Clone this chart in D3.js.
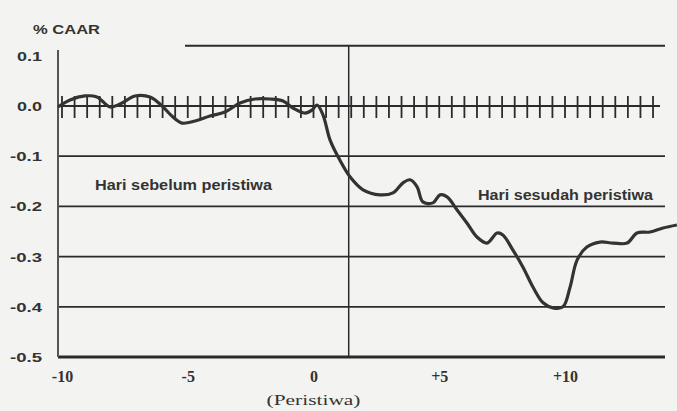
<!DOCTYPE html>
<html>
<head>
<meta charset="utf-8">
<script src="https://cdn.jsdelivr.net/npm/d3@7"></script>
<style>
  body { margin: 0; background: #f3f3f1; }
  svg { display: block; }
</style>
</head>
<body>
<div id="grafico"></div>
<script>
const width  = 677;
const height = 411;

// event days (x) and cumulative abnormal return (y)
const days = [-10.16, -9.68, -9.09, -8.61, -8.09, -7.69, -7.10, -6.50, -6.02, -5.63,
              -5.23, -4.71, -4.12, -3.52, -2.92, -2.33, -1.73, -1.21, -0.82, -0.34,
              -0.06, 0.14, 0.38, 0.66, 1.05, 1.45, 1.97, 2.64, 3.16, 3.56,
              3.84, 4.12, 4.35, 4.75, 5.03, 5.31, 5.71, 6.10, 6.50, 6.90,
              7.30, 7.53, 7.93, 8.33, 8.73, 9.13, 9.52, 9.92, 10.20, 10.48,
              10.87, 11.39, 11.91, 12.47, 12.86, 13.38, 13.90, 14.45];
const caar = [-0.002, 0.012, 0.020, 0.018, -0.002, 0.004, 0.020, 0.018, 0.000, -0.020,
              -0.034, -0.030, -0.020, -0.012, 0.006, 0.014, 0.014, 0.010, -0.004, -0.014,
              -0.008, 0.002, -0.018, -0.068, -0.108, -0.141, -0.167, -0.177, -0.173, -0.153,
              -0.147, -0.161, -0.191, -0.193, -0.177, -0.181, -0.207, -0.233, -0.261, -0.273,
              -0.253, -0.257, -0.287, -0.321, -0.361, -0.392, -0.402, -0.400, -0.361, -0.307,
              -0.281, -0.271, -0.273, -0.273, -0.253, -0.251, -0.243, -0.237];

const yTicks = [0.1, 0.0, -0.1, -0.2, -0.3, -0.4, -0.5];
const gridValues = [-0.1, -0.2, -0.3, -0.4];
const xTicks = [-10, -5, 0, 5, 10];
const xTickLabels = ["-10", "-5", "0", "+5", "+10"];
const eventLine = 1.4;
const topLine = 0.12;

const xScale = d3.scaleLinear().domain([-10, 10]).range([62, 565]);
const yScale = d3.scaleLinear().domain([0, -0.5]).range([106, 357]);

const svg = d3.select("#grafico")
              .append("svg")
              .attr("width", width)
              .attr("height", height);

const ink = "#2b2b2b";
const sans = "Liberation Sans, Arial, sans-serif";
const serif = "Liberation Serif, Times New Roman, serif";
const left = 58, right = 665;

// horizontal grid lines
svg.selectAll("line.grid")
   .data(gridValues)
   .join("line")
   .attr("class", "grid")
   .attr("x1", left).attr("x2", right)
   .attr("y1", d => yScale(d)).attr("y2", d => yScale(d))
   .attr("stroke", ink).attr("stroke-width", 1.8);

// top partial line
svg.append("line")
   .attr("x1", 185).attr("x2", right)
   .attr("y1", yScale(topLine)).attr("y2", yScale(topLine))
   .attr("stroke", ink).attr("stroke-width", 1.8);

// bottom axis line
svg.append("line")
   .attr("x1", left).attr("x2", right)
   .attr("y1", yScale(-0.5)).attr("y2", yScale(-0.5))
   .attr("stroke", ink).attr("stroke-width", 3);

// y axis line
svg.append("line")
   .attr("x1", left).attr("x2", left)
   .attr("y1", 50).attr("y2", yScale(-0.5))
   .attr("stroke", "#555").attr("stroke-width", 2);

// event line
svg.append("line")
   .attr("x1", xScale(eventLine)).attr("x2", xScale(eventLine))
   .attr("y1", yScale(topLine)).attr("y2", yScale(-0.5))
   .attr("stroke", ink).attr("stroke-width", 1.5);

// zero line with half-day ticks
svg.append("line")
   .attr("x1", left).attr("x2", 660)
   .attr("y1", yScale(0)).attr("y2", yScale(0))
   .attr("stroke", ink).attr("stroke-width", 2.2);

svg.selectAll("line.tick0")
   .data(d3.range(-10, 14, 0.5))
   .join("line")
   .attr("class", "tick0")
   .attr("x1", d => xScale(d)).attr("x2", d => xScale(d))
   .attr("y1", yScale(0) - 10).attr("y2", yScale(0) + 12)
   .attr("stroke", ink).attr("stroke-width", 1.8);

// curve
const line = d3.line()
               .x((d, i) => xScale(days[i]))
               .y(d => yScale(d))
               .curve(d3.curveCatmullRom);

svg.append("path")
   .datum(caar)
   .attr("d", line)
   .attr("fill", "none")
   .attr("stroke", "#333")
   .attr("stroke-width", 3.2)
   .attr("stroke-linejoin", "round");

// y labels
const fmt = d => d3.format(".1f")(d).replace("\u2212", "-");
svg.selectAll("text.ylab")
   .data(yTicks)
   .join("text")
   .attr("class", "ylab")
   .attr("x", 42)
   .attr("y", d => yScale(d) + 5)
   .attr("text-anchor", "end")
   .attr("font-family", sans)
   .attr("font-weight", "bold")
   .attr("font-size", 13)
   .attr("textLength", d => fmt(d).length > 3 ? 32 : 25)
   .attr("lengthAdjust", "spacingAndGlyphs")
   .attr("fill", "#333")
   .text(fmt);

svg.append("text")
   .attr("x", 33).attr("y", 34)
   .attr("font-family", sans)
   .attr("font-weight", "bold")
   .attr("font-size", 12)
   .attr("textLength", 67)
   .attr("lengthAdjust", "spacingAndGlyphs")
   .attr("fill", "#333")
   .text("% CAAR");

// x labels
const xAxis = d3.axisBottom(xScale)
                .tickValues(xTicks)
                .tickFormat((d, i) => xTickLabels[i])
                .tickSize(0)
                .tickPadding(0);

svg.append("g")
   .attr("transform", "translate(0, 371)")
   .call(xAxis)
   .call(g => g.select(".domain").remove())
   .selectAll("text")
   .attr("font-family", serif)
   .attr("font-weight", "bold")
   .attr("font-size", 16)
   .attr("fill", "#333");

svg.append("text")
   .attr("x", xScale(0)).attr("y", 405)
   .attr("text-anchor", "middle")
   .attr("font-family", serif)
   .attr("font-size", 14)
   .attr("textLength", 94)
   .attr("lengthAdjust", "spacingAndGlyphs")
   .attr("fill", "#333")
   .text("(Peristiwa)");

// annotations
svg.append("text")
   .attr("x", 95).attr("y", 190)
   .attr("font-family", sans)
   .attr("font-weight", "bold")
   .attr("font-size", 14)
   .attr("textLength", 177)
   .attr("lengthAdjust", "spacingAndGlyphs")
   .attr("fill", "#333")
   .text("Hari sebelum peristiwa");

svg.append("text")
   .attr("x", 478).attr("y", 200)
   .attr("font-family", sans)
   .attr("font-weight", "bold")
   .attr("font-size", 14)
   .attr("textLength", 175)
   .attr("lengthAdjust", "spacingAndGlyphs")
   .attr("fill", "#333")
   .text("Hari sesudah peristiwa");
</script>
</body>
</html>
